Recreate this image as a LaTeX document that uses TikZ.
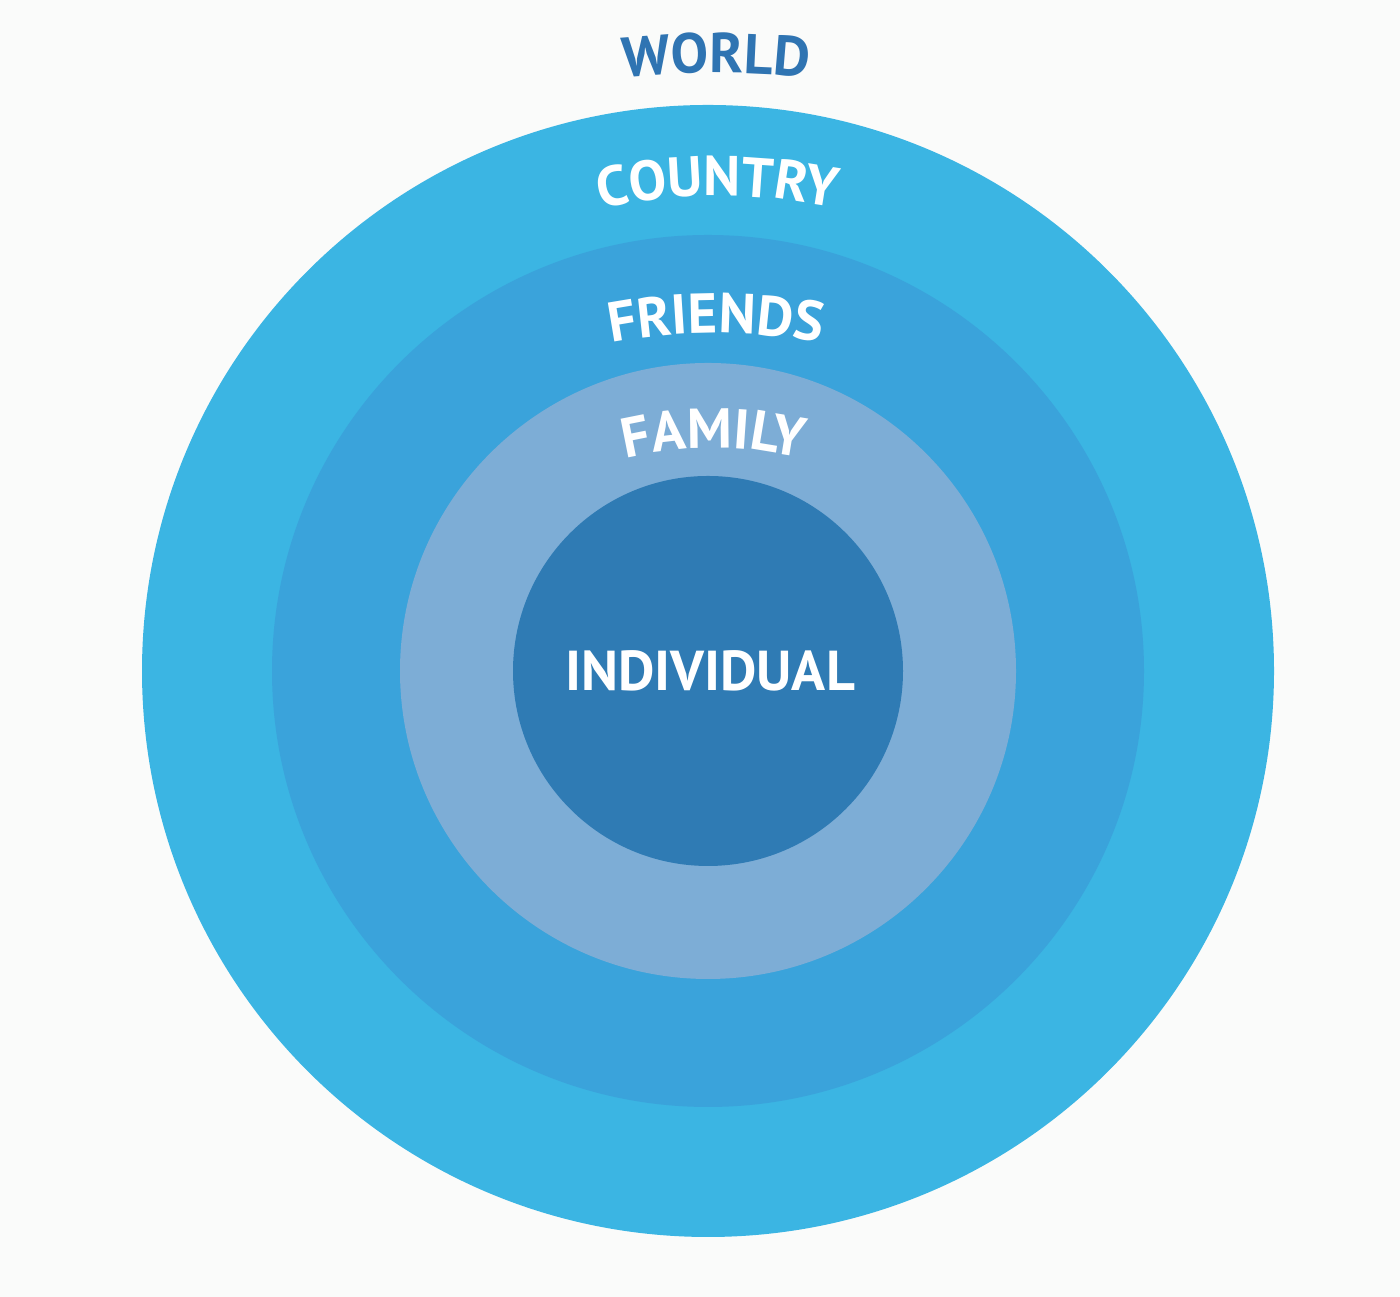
\documentclass[tikz,border=0pt]{standalone}
\usepackage{fontspec}
\setmainfont{PT Sans}
\usetikzlibrary{decorations.text}
\definecolor{pagewhite}{HTML}{FAFBFA}
\definecolor{countryblue}{HTML}{3BB5E3}
\definecolor{friendsblue}{HTML}{3AA3DB}
\definecolor{familyblue}{HTML}{7DADD6}
\definecolor{individualblue}{HTML}{2F7BB4}
\definecolor{worldblue}{HTML}{2F74B2}
\begin{document}
\begin{tikzpicture}[
  arched/.style={decorate, decoration={text along path, text align=center, text={#1}}},
  label/.style={font=\fontsize{16}{19}\selectfont\bfseries, text=white, inner sep=0pt}
]
% background and size of the page
\fill[pagewhite] (0,0) rectangle (14,12.97);
% draw the circles, from the outside in
\fill[countryblue] (7.08,6.26) circle (5.66);
\fill[friendsblue] (7.08,6.26) circle (4.36);
\fill[familyblue] (7.08,6.26) circle (3.08);
\fill[individualblue] (7.08,6.26) circle (1.95);
% add the arched labels
\path[arched={|\fontsize{16}{19}\selectfont\bfseries\color{worldblue}|WORLD}]
  (7.16,3.24) ++(100:9) arc[start angle=100, end angle=80, radius=9];
\path[arched={|\fontsize{16}{19}\selectfont\bfseries\color{white}|COUNT{RY}}]
  (7.18,5.51) ++(110:5.5) arc[start angle=110, end angle=70, radius=5.5];
\path[arched={|\fontsize{16}{19}\selectfont\bfseries\color{white}|FRIENDS}]
  (7.16,4.14) ++(110:5.5) arc[start angle=110, end angle=70, radius=5.5];
\path[arched={|\fontsize{16}{19}\selectfont\bfseries\color{white}|FAMI{LY}}]
  (7.14,4.69) ++(115:3.8) arc[start angle=115, end angle=65, radius=3.8];
% the centre label
\node[label] (individual) at (7.10,6.26) {INDIVIDUAL};
\end{tikzpicture}
\end{document}
